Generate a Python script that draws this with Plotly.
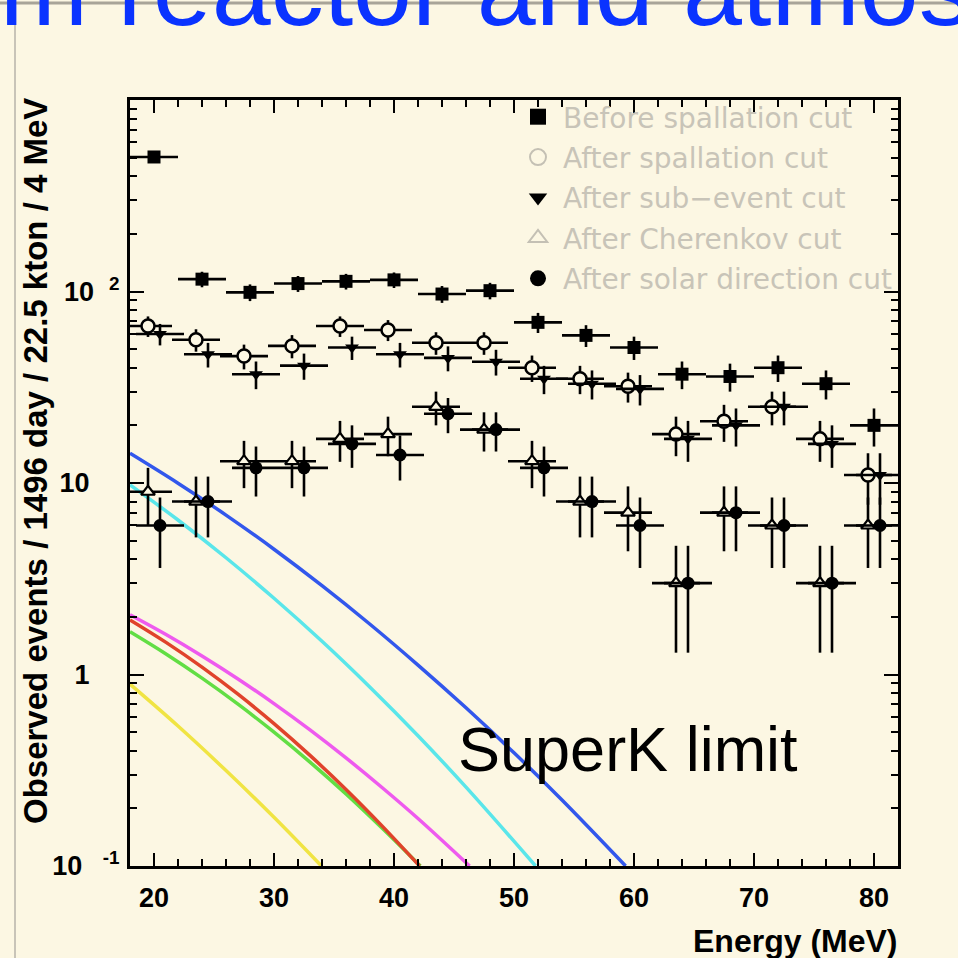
import plotly.graph_objects as go

# ---------------- data ----------------
bins = [20, 24, 28, 32, 36, 40, 44, 48, 52, 56, 60, 64, 68, 72, 76, 80]

before_spall = [504, 116, 99, 110, 113, 115, 97, 101, 69, 59, 51, 37, 36, 40, 33, 20]
before_spall_err = [22.4, 10.8, 9.9, 10.5, 10.6, 10.7, 9.8, 10.0, 8.3, 7.7, 7.1, 6.1, 6.0, 6.3, 5.7, 4.5]

after_spall = [66, 56, 46, 52, 66, 63, 54, 54, 40, 35, 32, 18, 21, 25, 17, 11]
after_spall_err = [8.1, 7.5, 6.8, 7.2, 8.1, 7.9, 7.3, 7.3, 6.3, 5.9, 5.7, 4.2, 4.6, 5.0, 4.1, 3.3]

after_subevent = [60, 47, 37, 41, 51, 47, 45, 43, 35, 33, 31, 17, 20, 25, 16, 11]
after_subevent_err = [7.7, 6.9, 6.1, 6.4, 7.1, 6.9, 6.7, 6.6, 5.9, 5.7, 5.6, 4.1, 4.5, 5.0, 4.0, 3.3]

after_cherenkov = [9, 8, 13, 13, 17, 18, 25, 19, 13, 8, 7, 3, 7, 6, 3, 6]
after_cherenkov_err = [3.0, 2.8, 3.6, 3.6, 4.1, 4.2, 5.0, 4.4, 3.6, 2.8, 2.6, 1.7, 2.6, 2.4, 1.7, 2.4]

after_solar = [6, 8, 12, 12, 16, 14, 23, 19, 12, 8, 6, 3, 7, 6, 3, 6]
after_solar_err = [2.4, 2.8, 3.5, 3.5, 4.0, 3.7, 4.8, 4.4, 3.5, 2.8, 2.4, 1.7, 2.6, 2.4, 1.7, 2.4]

# model curves (energy in MeV, events)
blue_E = [18, 22, 26, 30, 34, 38, 42, 46, 50, 54, 59.3]
blue_y = [14.3, 9.98, 6.80, 4.51, 2.91, 1.83, 1.12, 0.670, 0.390, 0.221, 0.1]
cyan_E = [18, 22, 26, 30, 34, 38, 42, 46, 51.8]
cyan_y = [9.77, 6.41, 4.07, 2.50, 1.49, 0.858, 0.479, 0.258, 0.1]
magenta_E = [18, 21, 24, 27, 30, 33, 36, 39, 42, 46.3]
magenta_y = [2.05, 1.617, 1.250, 0.948, 0.705, 0.514, 0.367, 0.257, 0.177, 0.1]
red_E = [18, 21, 24, 27, 30, 33, 36, 39, 42.13]
red_y = [1.928, 1.472, 1.093, 0.789, 0.554, 0.378, 0.251, 0.162, 0.1]
green_E = [18, 21, 24, 27, 30, 33, 36, 39, 42.2]
green_y = [1.671, 1.279, 0.957, 0.700, 0.500, 0.349, 0.238, 0.158, 0.1]
yellow_E = [18, 22, 26, 30, 33.95]
yellow_y = [0.89, 0.538, 0.315, 0.1795, 0.1]

y_tickvals = [0.1, 1, 10, 100]
y_ticktext = ["10\u2007\u2009<sup>-1</sup>", "1\u2007\u2007", "10\u2007\u2007", "10\u2007<sup>2</sup>"]
x_tickvals = [20, 30, 40, 50, 60, 70, 80]

legend_names = ["Before spallation cut", "After spallation cut", "After sub\u2212event cut",
                "After Cherenkov cut", "After solar direction cut"]

# ---------------- style ----------------
BG = "#FCF7E3"
BIN_HALF = 2.0
OFFSET = 0.5
L, R, T, B = 130, 898, 100, 866
W = H = 958
FONT = "Liberation Sans, Arial, sans-serif"


def px_x(px):
    return (px - L) / (R - L)


def px_y(py):
    return (B - py) / (B - T)


fig = go.Figure()

curves = [
    (yellow_E, yellow_y, "#F0E443"),
    (green_E, green_y, "#62DE44"),
    (red_E, red_y, "#E0432B"),
    (magenta_E, magenta_y, "#EE5AEE"),
    (cyan_E, cyan_y, "#5AE6EA"),
    (blue_E, blue_y, "#3257EC"),
]
for ex, ey, col in curves:
    fig.add_trace(go.Scatter(x=ex, y=ey, mode="lines",
                             line=dict(color=col, width=3.5, shape="spline", smoothing=1.0),
                             showlegend=False, hoverinfo="skip"))


def data_trace(xs, ys, errs, symbol, size, fill, lw):
    return go.Scatter(
        x=xs, y=ys, mode="markers", showlegend=False,
        marker=dict(symbol=symbol, size=size, color=fill, line=dict(color="black", width=lw)),
        error_x=dict(type="constant", value=BIN_HALF, thickness=2.6, width=0, color="black"),
        error_y=dict(type="data", array=errs, symmetric=True, thickness=2.6, width=0, color="black"),
    )


fig.add_trace(data_trace(bins, before_spall, before_spall_err, "square", 13, "black", 0))
fig.add_trace(data_trace([e - OFFSET for e in bins], after_spall, after_spall_err, "circle", 13, BG, 2.5))
fig.add_trace(data_trace([e + OFFSET for e in bins], after_subevent, after_subevent_err, "triangle-down", 12, "black", 0))
fig.add_trace(data_trace([e - OFFSET for e in bins], after_cherenkov, after_cherenkov_err, "triangle-up", 12, BG, 2.2))
fig.add_trace(data_trace([e + OFFSET for e in bins], after_solar, after_solar_err, "circle", 13, "black", 0))

# legend-only entries
leg_styles = [
    ("square", "black", "black", 0),
    ("circle-open", "#C4C0B4", "#C4C0B4", 2),
    ("triangle-down", "black", "black", 0),
    ("triangle-up-open", "#C4C0B4", "#C4C0B4", 2),
    ("circle", "black", "black", 0),
]
for i, (name, (sym, col, lcol, lw)) in enumerate(zip(legend_names, leg_styles)):
    fig.add_trace(go.Scatter(x=[None], y=[None], mode="markers", name=name, legendgroup=f"g{i}",
                             marker=dict(symbol=sym, size=16, color=col, line=dict(color=lcol, width=lw))))

axis_common = dict(showgrid=False, zeroline=False, showline=True, linecolor="black", linewidth=3,
                   mirror="allticks", ticks="inside", tickcolor="black", tickwidth=2,
                   tickfont=dict(family=FONT, size=27, color="black", weight="bold"))

fig.update_xaxes(range=[18, 82], tickvals=x_tickvals, ticklen=13, ticklabelstandoff=6,
                 minor=dict(dtick=2, ticks="inside", ticklen=7, tickcolor="black", tickwidth=2),
                 **axis_common)
minor_y = [m * 10 ** k for k in (-1, 0, 1, 2) for m in range(2, 10)]
fig.update_yaxes(type="log", range=[-1, 3], tickvals=y_tickvals, ticktext=y_ticktext, ticklen=14,
                 ticklabelstandoff=2,
                 minor=dict(tickvals=minor_y, ticks="inside", ticklen=7, tickcolor="black", tickwidth=2),
                 **axis_common)

fig.update_layout(
    width=W, height=H, autosize=False,
    margin=dict(l=L, r=W - R, t=T, b=H - B, pad=0),
    paper_bgcolor=BG, plot_bgcolor=BG,
    showlegend=True,
    legend=dict(x=px_x(513), y=px_y(92), xanchor="left", yanchor="top", bgcolor="rgba(0,0,0,0)",
                font=dict(family="DejaVu Sans, sans-serif", size=28, color="#C8C4B8"),
                itemwidth=40, traceorder="grouped", tracegroupgap=1, borderwidth=0),
    shapes=[
        dict(type="line", xref="paper", yref="paper", x0=px_x(0), x1=px_x(958), y0=px_y(3), y1=px_y(3),
             line=dict(color="#A8A498", width=3), layer="above"),
        dict(type="line", xref="paper", yref="paper", x0=px_x(15), x1=px_x(15), y0=px_y(5), y1=px_y(958),
             line=dict(color="#C8C4B8", width=2), layer="above"),
    ],
    annotations=[
        dict(text="from reactor and atmospheric", xref="paper", yref="paper", x=px_x(-126), y=px_y(49),
             xanchor="left", yanchor="bottom", showarrow=False,
             font=dict(family=FONT, size=106, color="#0A33FF")),
        dict(text="SuperK limit", xref="paper", yref="paper", x=px_x(456), y=px_y(786),
             xanchor="left", yanchor="bottom", showarrow=False,
             font=dict(family=FONT, size=63, color="black")),
        dict(text="Observed events / 1496 day / 22.5 kton / 4 MeV", xref="paper", yref="paper",
             x=px_x(35), y=px_y(461), xanchor="center", yanchor="middle", textangle=-90, showarrow=False,
             font=dict(family=FONT, size=33, color="black", weight="bold")),
        dict(text="Energy (MeV)", xref="paper", yref="paper", x=px_x(899), y=px_y(941),
             xanchor="right", yanchor="middle", showarrow=False,
             font=dict(family=FONT, size=32, color="black", weight="bold")),
    ],
)

fig.write_html("out.html")
